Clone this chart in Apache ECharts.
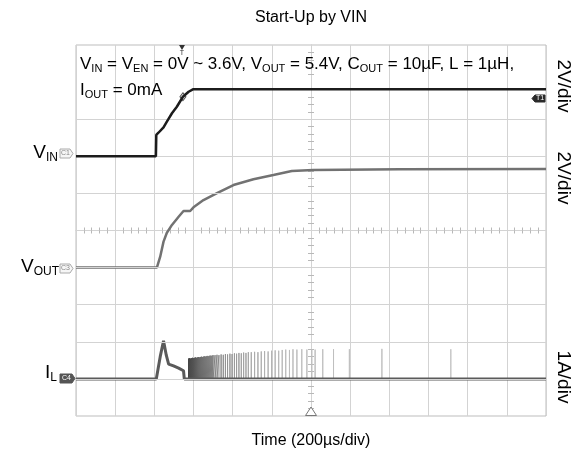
<!DOCTYPE html>
<html><head><meta charset="utf-8">
<script src="https://cdn.jsdelivr.net/npm/echarts@6/dist/echarts.min.js"></script>
<style>html,body{margin:0;padding:0;background:#fff}#c{width:584px;height:464px}</style>
</head><body><div id="c"></div>
<script>
const FONT = "'Liberation Sans', Arial, Helvetica, sans-serif";

// ---- DATA (time in µs, 200 µs/div, 12 divisions) ----
// V_IN (V), 2 V/div
const vinT = [0, 408, 410, 421, 447, 464, 490, 515, 546, 575, 597, 1200, 2400];
const vinV = [0, 0, 1.15, 1.27, 1.56, 1.87, 2.32, 2.67, 3.21, 3.48, 3.61, 3.61, 3.61];
// V_OUT (V), 2 V/div
const voutT = [0, 413, 430, 447, 464, 490, 524, 549, 583, 600, 651, 720, 804, 906, 1008, 1102, 1212, 1655, 2400];
const voutV = [0, 0, 0.59, 1.40, 1.88, 2.30, 2.74, 3.05, 3.05, 3.25, 3.64, 4.01, 4.45, 4.76, 4.99, 5.21, 5.26, 5.30, 5.32];
// I_L (A), 1 A/div  — main trace
const ilT = [0, 410, 430, 447, 461, 473, 498, 524, 549, 553, 2400];
const ilA = [0, 0, 0.60, 1.03, 0.64, 0.40, 0.35, 0.29, 0.22, 0, 0];
// I_L switching pulses: time (µs) and peak current (A)
const pulseT = [575, 580, 585, 590, 595, 600, 605, 610, 615, 620, 625, 630, 635, 640, 645, 650, 655, 660, 665, 670, 675, 680, 685, 690, 695, 700,
  710, 720, 730, 741, 752, 763, 774, 786, 797, 809, 820, 832, 844, 856, 868, 880,
  895, 912, 929, 946, 963, 981, 999, 1017, 1035, 1053, 1071, 1090, 1108,
  1128, 1153, 1179, 1204, 1221, 1260, 1315, 1396, 1562, 1914];
const pulseA = [0.55, 0.56, 0.55, 0.56, 0.57, 0.56, 0.57, 0.58, 0.57, 0.58, 0.59, 0.58, 0.59, 0.60, 0.59, 0.60, 0.61, 0.60, 0.61, 0.62, 0.61, 0.62, 0.63, 0.62, 0.63, 0.64,
  0.64, 0.65, 0.64, 0.66, 0.65, 0.67, 0.66, 0.68, 0.67, 0.69, 0.68, 0.70, 0.69, 0.71, 0.70, 0.72,
  0.72, 0.73, 0.72, 0.74, 0.75, 0.74, 0.76, 0.77, 0.76, 0.78, 0.79, 0.78, 0.80,
  0.79, 0.80, 0.79, 0.80, 0.79, 0.80, 0.80, 0.80, 0.81, 0.80];
// texts
const titleText = 'Start-Up by VIN';
const xTitle = 'Time (200µs/div)';
const scaleLabels = ['2V/div', '2V/div', '1A/div'];

// ---- build ----
const zip = (a, b) => a.map((v, i) => [v, b[i]]);
const pulseData = [];
pulseT.forEach((t, i) => { pulseData.push([t, 0], [t, pulseA[i]], [t, 0]); });

const GRID_C = '#d3d3d3';
const hidden = (min, max, interval) => ({ type: 'value', min, max, interval, show: false });
const centerX = (pos) => ({
  type: 'value', min: -6, max: 6, interval: 1, position: pos, show: true,
  axisLine: { show: true, onZero: true, onZeroAxisIndex: 3, lineStyle: { color: GRID_C, width: 1 } },
  axisTick: { show: false }, axisLabel: { show: false }, splitLine: { show: false },
  minorTick: { show: true, splitNumber: 5, length: 3, lineStyle: { color: '#b8b8b8', width: 1 } }
});
const centerY = (pos) => ({
  type: 'value', min: -5, max: 5, interval: 1, position: pos, show: true,
  axisLine: { show: true, onZero: true, onZeroAxisIndex: 1, lineStyle: { color: GRID_C, width: 1 } },
  axisTick: { show: false }, axisLabel: { show: false }, splitLine: { show: false },
  minorTick: { show: true, splitNumber: 5, length: 3, lineStyle: { color: '#b8b8b8', width: 1 } }
});

function sub(x, y, parts, fs, ss, align) {
  return {
    type: 'text', x, y, silent: true, z: 100,
    style: {
      text: parts.map(p => p[1] ? '{s|' + p[0] + '}' : '{m|' + p[0] + '}').join(''),
      align: align || 'left', verticalAlign: 'middle', fill: '#000',
      rich: {
        m: { fontSize: fs, fontFamily: FONT, fill: '#000', color: '#000', lineHeight: fs + 3 },
        s: { fontSize: ss, fontFamily: FONT, fill: '#000', color: '#000', lineHeight: ss + 2, verticalAlign: 'bottom' }
      }
    }
  };
}
function plain(x, y, text, fs, rot) {
  return { type: 'text', x, y, rotation: rot || 0, silent: true, z: 100,
    style: { text, fontSize: fs, fontFamily: FONT, fill: '#000', align: 'center', verticalAlign: 'middle' } };
}
function tag(pts, fill, stroke, txt, tx, ty, tcol) {
  return [
    { type: 'polygon', shape: { points: pts }, style: { fill, stroke, lineWidth: 1 }, z: 100, silent: true },
    { type: 'text', x: tx, y: ty, z: 101, silent: true,
      style: { text: txt, fontSize: 7, fontFamily: FONT, fill: tcol, align: 'center', verticalAlign: 'middle' } }
  ];
}

const graphic = [
  plain(311, 18, titleText, 16),
  plain(311, 441, xTitle, 16),
  plain(563, 86, scaleLabels[0], 19, -Math.PI / 2),
  plain(563, 178, scaleLabels[1], 19, -Math.PI / 2),
  plain(563, 377, scaleLabels[2], 19, -Math.PI / 2),
  sub(80, 64, [['V'], ['IN', 1], [' = V'], ['EN', 1], [' = 0V ~ 3.6V, V'], ['OUT', 1], [' = 5.4V, C'], ['OUT', 1], [' = 10µF, L = 1µH,']], 17, 11),
  sub(80, 90, [['I'], ['OUT', 1], [' = 0mA']], 17, 11),
  sub(58, 153, [['V'], ['IN', 1]], 19, 12, 'right'),
  sub(59, 267, [['V'], ['OUT', 1]], 19, 12, 'right'),
  sub(57, 373, [['I'], ['L', 1]], 19, 12, 'right'),
  ...tag([[60, 149], [70, 149], [73, 153.5], [70, 158], [60, 158]], '#f6f6f6', '#aaa', 'C1', 65.5, 153.5, '#888'),
  ...tag([[60, 264], [70, 264], [73, 268.5], [70, 273], [60, 273]], '#f6f6f6', '#aaa', 'C3', 65.5, 268.5, '#888'),
  ...tag([[60, 374], [72, 374], [75, 378.5], [72, 383], [60, 383]], '#555', '#555', 'C4', 66.5, 378.5, '#fff'),
  ...tag([[535, 95], [545, 95], [545, 102], [535, 102], [532, 98.5]], '#2a2a2a', '#2a2a2a', 'T1', 540, 98.5, '#fff'),
  { type: 'polygon', shape: { points: [[179, 45], [185, 45], [182, 50]] }, style: { fill: '#333' }, z: 100, silent: true },
  { type: 'text', x: 182, y: 53, z: 100, silent: true, style: { text: 'T', fontSize: 7, fontFamily: FONT, fill: '#333', align: 'center', verticalAlign: 'middle' } },
  { type: 'polygon', shape: { points: [[305.5, 415.5], [316.5, 415.5], [311, 407]] }, style: { fill: '#fff', stroke: '#777', lineWidth: 1 }, z: 100, silent: true }
];

const option = {
  animation: false,
  backgroundColor: '#fff',
  grid: { left: 76, top: 45, width: 470, height: 371, show: true, borderColor: '#bdbdbd', borderWidth: 1, backgroundColor: 'transparent' },
  xAxis: [
    { type: 'value', min: 0, max: 2400, interval: 200, show: true,
      axisLine: { show: false }, axisTick: { show: false }, axisLabel: { show: false },
      splitLine: { show: true, lineStyle: { color: GRID_C, width: 1 } } },
    hidden(-6, 6, 1),
    centerX('bottom'),
    centerX('top')
  ],
  yAxis: [
    hidden(-14, 6, 2),   // V_IN: ground 3 div below top
    hidden(-8, 12, 2),   // V_OUT: ground 6 div below top
    hidden(-1, 9, 1),    // I_L: ground 9 div below top
    hidden(-5, 5, 1),    // division helper
    centerY('left'),
    centerY('right')
  ],
  graphic,
  series: [
    { type: 'line', xAxisIndex: 0, yAxisIndex: 3, data: [], z: 1, silent: true,
      markLine: { silent: true, symbol: ['none', 'none'], label: { show: false }, animation: false,
        lineStyle: { color: GRID_C, width: 1, type: 'solid' },
        data: [3, 2, 1, -1, -2, -3, -4].map(v => ({ yAxis: v })) } },
    { type: 'line', name: 'IL pulses', xAxisIndex: 0, yAxisIndex: 2, data: pulseData, symbol: 'none', z: 3, silent: true,
      lineStyle: { width: 1, color: { type: 'linear', x: 0, y: 0, x2: 1, y2: 0, colorStops: [
        { offset: 0, color: '#3c3c3c' }, { offset: 0.05, color: '#666' }, { offset: 0.13, color: '#8c8c8c' },
        { offset: 0.25, color: '#aaa' }, { offset: 0.4, color: '#bdbdbd' }, { offset: 1, color: '#c4c4c4' }] } } },
    { type: 'line', name: 'IL', xAxisIndex: 0, yAxisIndex: 2, data: zip(ilT, ilA), symbol: 'none', z: 4, silent: true,
      lineStyle: { width: 3, color: '#5a5a5a' } },
    { type: 'line', name: 'VOUT', xAxisIndex: 0, yAxisIndex: 1, data: zip(voutT, voutV), symbol: 'none', z: 4, silent: true,
      lineStyle: { width: 2.5, color: '#727272' } },
    { type: 'line', name: 'VIN', xAxisIndex: 0, yAxisIndex: 0, data: zip(vinT, vinV), symbol: 'none', z: 5, silent: true,
      lineStyle: { width: 2.5, color: '#1c1c1c' },
      markPoint: { silent: true, symbol: 'diamond', symbolSize: [6, 8], label: { show: false },
        itemStyle: { color: '#fff', borderColor: '#555', borderWidth: 1 },
        data: [{ coord: [vinT[8], vinV[8]] }] } }
  ]
};
const chart = echarts.init(document.getElementById('c'), null, { renderer: 'canvas', width: 584, height: 464 });
chart.setOption(option);
</script></body></html>
